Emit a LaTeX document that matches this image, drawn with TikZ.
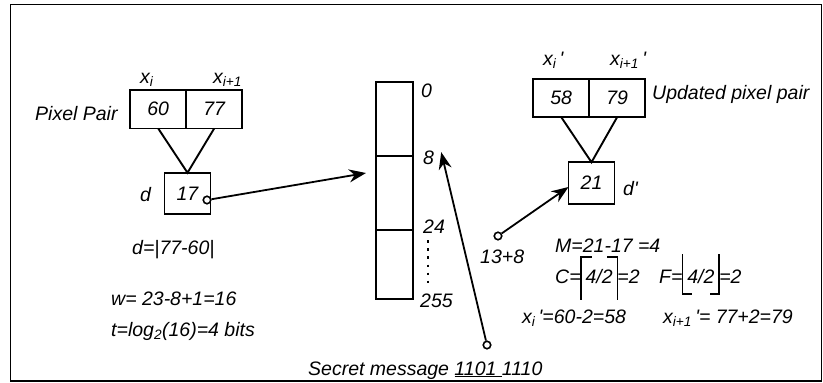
\documentclass[tikz,border=0pt]{standalone}
\usepackage{fontspec}
\setmainfont{Liberation Sans}
\usetikzlibrary{arrows.meta,positioning,calc}

\newcommand{\prm}{\textquotesingle}

\begin{document}
\begin{tikzpicture}[
    x=1pt, y=-1pt,
    font=\fontsize{19.5}{23}\selectfont\itshape,
    >={Stealth[length=17pt,width=13pt]},
    node distance=6pt,
    cell/.style={
        draw,
        line width=1.9pt,
        minimum width=56pt,
        minimum height=38.5pt,
        inner sep=0pt,
        outer sep=0pt
    },
    dcell/.style={cell, minimum width=46pt, minimum height=41.5pt},
    slot/.style={cell, minimum width=37pt, minimum height=#1},
    slot/.default=74pt,
    txt/.style={inner sep=0pt, anchor=base west},
    hole/.style={
        circle,
        draw,
        line width=1.6pt,
        fill=white,
        inner sep=0pt,
        minimum size=7.5pt
    },
    link/.style={->, line width=1.8pt},
    bracket/.style={line width=1.5pt},
    dots/.style={line width=2.6pt, dash pattern=on 2.6pt off 5.5pt}
]

\useasboundingbox (0,0) rectangle (823,383);
\draw[line width=1.8pt] (10.5,4.5) rectangle (821.5,381);

% Original pixel pair and its difference
\node[cell] (xa) at (158.2,109.2) {60};
\node[cell, right=0pt of xa] (xb) {77};
\node[txt] (pp)  at (35,120)  {Pixel Pair};
\node[txt] (lxa) at (140,83)  {x\textsubscript{i}};
\node[txt] (lxb) at (213,83)  {x\textsubscript{i+1}};

\node[dcell] (dd) at (187.5,193.5) {17};
\node[txt] (dlab) at (140,201) {d};
\draw[line width=1.9pt] (xa.south) -- (dd.north) -- (xb.south);

\node[txt] (dform) at (132,254) {d=|77-60|};
\node[txt] (wform) at (111,305) {w= 23-8+1=16};
\node[txt] (tform) at (111,336) {t=log\textsubscript{2}(16)=4 bits};

% Range table
\node[slot] (s1) at (394.5,119) {};
\node[slot, below=0pt of s1] (s2) {};
\node[slot=69pt, below=0pt of s2] (s3) {};

\node[txt] (l0)   at (421,97)  {0};
\node[txt] (l8)   at (423,164) {8};
\node[txt] (l24)  at (423,233) {24};
\node[txt] (l255) at (420,307) {255};
\draw[dots, shorten <=7pt, shorten >=9pt]
    ([xshift=5pt]l24.south west) -- ([xshift=8pt]l255.north west);

\node[hole] (dpin) at (207,200) {};
\draw[link] (dpin) -- ($(s2.north west)+(-10,17)$);

% Secret bits
\node[txt] (secret) at (308,375) {Secret message \underline{1101\ }1110};
\node[hole] (spin) at (487,345) {};
\draw[link] (spin) -- ($(l8.north east)+(7,2)$);

% Updated pixel pair
\node[cell] (ya) at (561.2,97.8) {58};
\node[cell, right=0pt of ya] (yb) {79};
\node[txt] (upp) at (652,99.5) {Updated pixel pair};
\node[txt] (lya) at (543,65) {x\textsubscript{i}\,\prm};
\node[txt] (lyb) at (610,65) {x\textsubscript{i+1}\,\prm};

\node[dcell] (dp) at (591.5,183) {21};
\node[txt] (dplab) at (623,195) {d\prm};
\draw[line width=1.9pt] (ya.south) -- (dp.north) -- (yb.south);

\node[hole] (ppin) at (498,236) {};
\node[txt] (ext) at (480,263) {13+8};
\draw[link] (ppin) -- ([yshift=-4pt]dp.west);

% Readjustment
\node[txt] (mform) at (555,252) {M=21-17 =4};
\node[txt] (ceq) at (555,283) {C=};
\node[txt, minimum width=36pt, anchor=base west] (cfrac) at (ceq.base east) {4/2};
\node[txt] (cres) at (cfrac.base east) {=2};
\draw[bracket] ($(cfrac.base west)+(11,-26)$) -- ($(cfrac.base west)+(0,-26)$) -- ($(cfrac.base west)+(0,17)$);
\draw[bracket] ($(cfrac.base east)+(-10,-26)$) -- ($(cfrac.base east)+(0,-26)$) -- ($(cfrac.base east)+(0,17)$);

\node[txt] (feq) at (659,283) {F=};
\node[txt, minimum width=36pt] (ffrac) at (feq.base east) {4/2};
\node[txt] (fres) at (ffrac.base east) {=2};
\draw[bracket] ($(ffrac.base west)+(0,-29)$) -- ($(ffrac.base west)+(0,11)$) -- ($(ffrac.base west)+(9,11)$);
\draw[bracket] ($(ffrac.base east)+(0,-29)$) -- ($(ffrac.base east)+(0,11)$) -- ($(ffrac.base east)+(-9,11)$);

\node[txt] (xnew)  at (522,323) {x\textsubscript{i}\,\prm=60-2=58};
\node[txt] (xnew2) at (663,323) {x\textsubscript{i+1}\,\prm= 77+2=79};

\end{tikzpicture}
\end{document}
